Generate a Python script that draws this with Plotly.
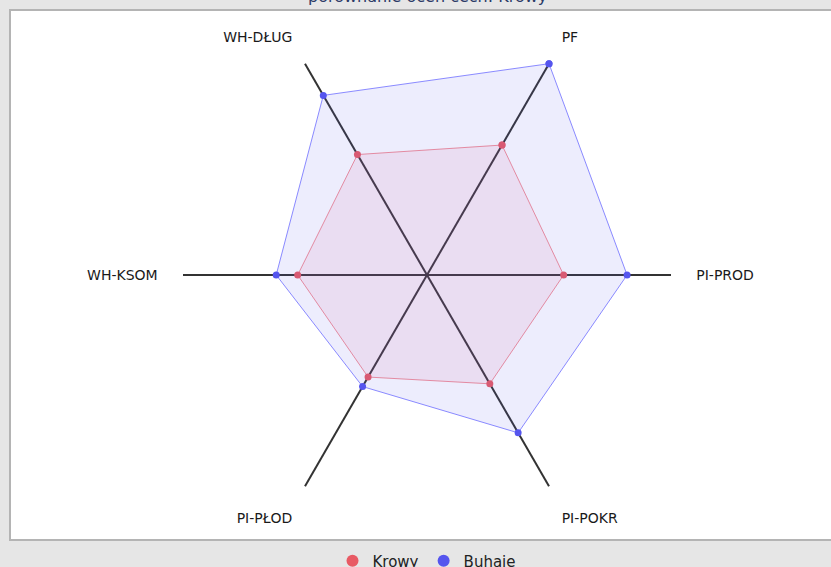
import plotly.graph_objects as go

# Data
categories = ["PF", "PI-PROD", "PI-POKR", "PI-PŁOD", "WH-KSOM", "WH-DŁUG"]
krowy = [61.5, 56.0, 51.5, 48.3, 53.0, 57.0]
buhaje = [100.0, 82.0, 74.7, 52.8, 61.8, 85.0]
series_names = ["Krowy", "Buhaje"]
title_text = "porównanie ocen cech: Krowy"

W, H = 831, 567
cx, cy, R = 427, 275, 244

red_marker = "#e85a64"
blue_marker = "#5555ee"

def closed(v):
    return list(v) + [v[0]]

fig = go.Figure()
fig.add_trace(go.Scatterpolar(
    r=closed(krowy), theta=closed(categories), name=series_names[0],
    mode="lines+markers", fill="toself", showlegend=False,
    fillcolor="rgba(230,90,140,0.10)",
    line=dict(color="rgba(240,110,120,0.75)", width=1),
    marker=dict(color=red_marker, size=7),
))
fig.add_trace(go.Scatterpolar(
    r=closed(buhaje), theta=closed(categories), name=series_names[1],
    mode="lines+markers", fill="toself", showlegend=False,
    fillcolor="rgba(90,90,240,0.11)",
    line=dict(color="rgba(110,110,255,0.8)", width=1),
    marker=dict(color=blue_marker, size=7),
))
# legend-only entries (circle symbols, as in the reference legend)
for nm, col in zip(series_names, [red_marker, blue_marker]):
    fig.add_trace(go.Scatterpolar(
        r=[None], theta=[None], name=nm, mode="markers",
        marker=dict(color=col, size=12, symbol="circle"),
        showlegend=True, hoverinfo="skip",
    ))

fig.update_layout(
    width=W, height=H,
    margin=dict(l=0, r=0, t=0, b=0, autoexpand=False),
    paper_bgcolor="#e6e6e6",
    plot_bgcolor="white",
    font=dict(family="DejaVu Sans", color="#222"),
    polar=dict(
        domain=dict(x=[(cx - R) / W, (cx + R) / W],
                    y=[(H - cy - R) / H, (H - cy + R) / H]),
        bgcolor="rgba(0,0,0,0)",
        radialaxis=dict(range=[0, 100], visible=False, showgrid=False,
                        showline=False, showticklabels=False, ticks=""),
        angularaxis=dict(type="category", categoryorder="array",
                         categoryarray=categories,
                         rotation=60, direction="clockwise",
                         showline=False, showgrid=True,
                         gridcolor="#333", gridwidth=1.5,
                         ticks="outside", ticklen=22,
                         tickcolor="rgba(0,0,0,0)",
                         tickfont=dict(size=14, color="#1a1a1a")),
    ),
    shapes=[dict(type="rect", xref="paper", yref="paper", layer="below",
                 x0=10 / W, x1=1.02, y0=(H - 540) / H, y1=(H - 10) / H,
                 fillcolor="white", line=dict(color="#b4b4b4", width=2))],
    annotations=[dict(text=title_text, xref="paper", yref="paper",
                      x=cx / W, y=1.0 + 3 / H, xanchor="center", yanchor="middle",
                      showarrow=False,
                      font=dict(size=16, color="#2b3a67", family="DejaVu Sans"))],
    showlegend=True,
    legend=dict(orientation="h", x=cx / W, xanchor="center",
                y=6 / H, yanchor="middle", bgcolor="rgba(0,0,0,0)",
                font=dict(size=15, color="#222"), itemwidth=30),
)

fig.write_html("out.html",
               config=dict(displayModeBar=False),
               post_script="document.body.style.margin='0';document.body.style.overflow='hidden';")
